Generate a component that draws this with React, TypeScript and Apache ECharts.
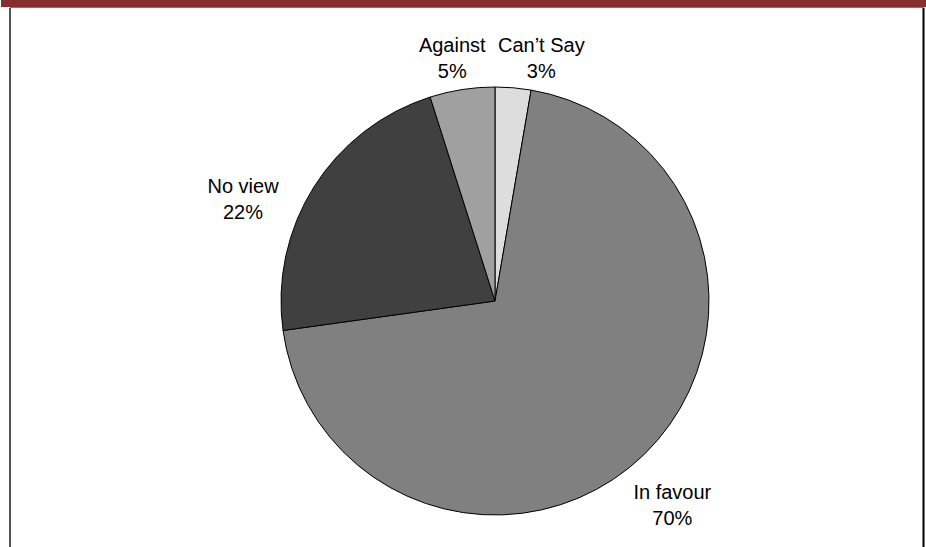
import React, { useEffect, useRef } from "react";
import * as echarts from "echarts";

const categories = ["Can’t Say", "In favour", "No view", "Against"];
const values = [2.7, 70.1, 22.3, 4.9];
const colors = ["#DDDDDD", "#808080", "#404040", "#A0A0A0"];

const W = 926;
const H = 547;
const CX = 495;
const CY = 301;
const R = 214;
const FONT = 20;
const LINE_H = 26;

// small nudges to mimic the original's label fitting
const nudges: Record<string, [number, number]> = {
  "Can’t Say": [25, 8],
  "In favour": [-9, 12],
  "No view": [-27, 40],
  "Against": [-4, 7],
};

function measure(text: string): number {
  const c = document.createElement("canvas").getContext("2d");
  if (!c) return text.length * FONT * 0.55;
  c.font = `${FONT}px "Liberation Sans", Arial, sans-serif`;
  return c.measureText(text).width;
}

export default function App() {
  const ref = useRef<HTMLDivElement>(null);
  useEffect(() => {
    if (!ref.current) return;
    const chart = echarts.init(ref.current, undefined, { renderer: "svg" });
    const total = values.reduce((a, b) => a + b, 0);
    const labelPos: { x: number; y: number }[] = [];
    let acc = 0;
    values.forEach((v, i) => {
      const mid = ((acc + v / 2) / total) * Math.PI * 2;
      acc += v;
      const dx = Math.sin(mid);
      const dy = -Math.cos(mid);
      const pct = Math.round((v / total) * 100) + "%";
      const w = Math.max(measure(categories[i]), measure(pct));
      const h = LINE_H * 2;
      const d = R + 8 + Math.abs(dx) * (w / 2) + Math.abs(dy) * (h / 2);
      const n = nudges[categories[i]] || [0, 0];
      labelPos.push({ x: CX + dx * d + n[0], y: CY + dy * d + n[1] });
    });

    chart.setOption({
      animation: false,
      backgroundColor: "#FFFFFF",
      graphic: [
        { type: "rect", shape: { x: 1, y: 0, width: W - 1, height: 7 }, style: { fill: "#85302F" }, z: 10 },
        { type: "line", shape: { x1: 10, y1: 7.5, x2: 924, y2: 7.5 }, style: { stroke: "#777777", lineWidth: 1 }, z: 10 },
        { type: "line", shape: { x1: 10, y1: 8, x2: 10, y2: H }, style: { stroke: "#555555", lineWidth: 2 }, z: 10 },
        { type: "line", shape: { x1: 923.5, y1: 8, x2: 923.5, y2: H }, style: { stroke: "#000000", lineWidth: 2 }, z: 10 },
      ],
      series: [
        {
          type: "pie",
          center: [CX, CY],
          radius: [0, R],
          startAngle: 90,
          clockwise: true,
          percentPrecision: 0,
          data: categories.map((name, i) => ({
            name,
            value: values[i],
            itemStyle: { color: colors[i] },
          })),
          itemStyle: { borderColor: "#000000", borderWidth: 1 },
          emphasis: { disabled: true },
          label: {
            show: true,
            position: "outside",
            formatter: "{b}\n{d}%",
            color: "#000000",
            fontSize: FONT,
            lineHeight: LINE_H,
            fontFamily: "'Liberation Sans', Arial, sans-serif",
            align: "center",
          },
          labelLine: { show: false },
          labelLayout: (params: any) => {
            const p = labelPos[params.dataIndex];
            return { x: p.x, y: p.y, align: "center", verticalAlign: "middle" };
          },
        },
      ],
    });
    return () => chart.dispose();
  }, []);
  return (
    <div
      ref={ref}
      style={{ position: "fixed", left: 0, top: 0, width: W, height: H }}
    />
  );
}
